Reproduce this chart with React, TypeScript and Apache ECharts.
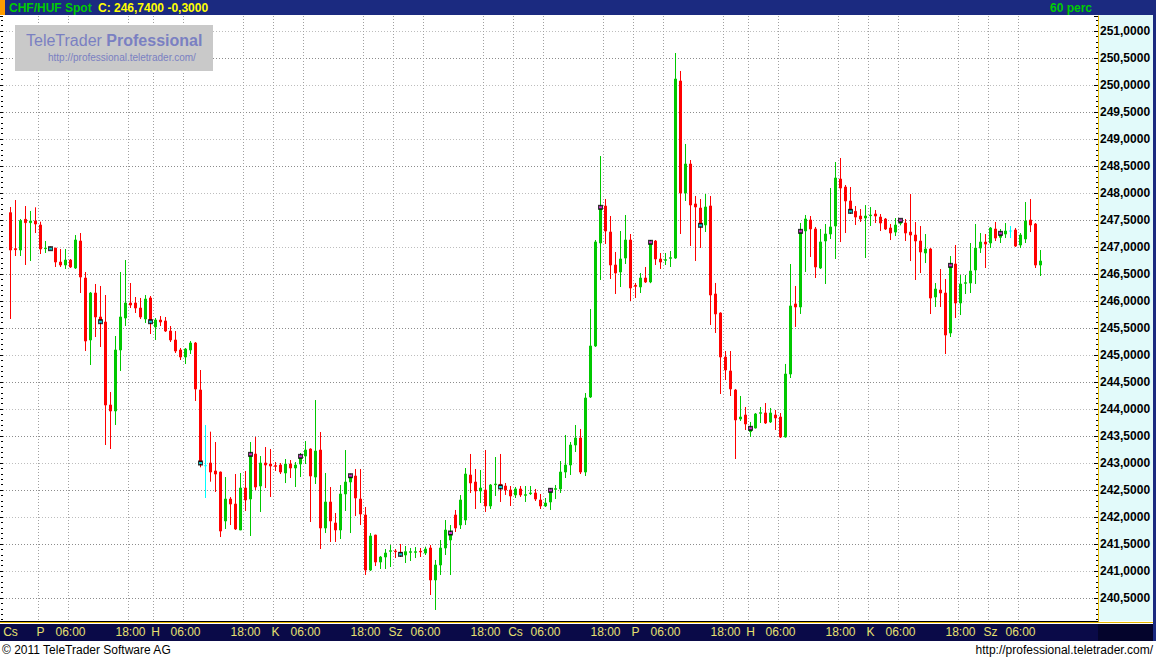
import React, { useEffect, useRef } from 'react';
import * as echarts from 'echarts';

const FONT = '"Liberation Sans", Arial, Helvetica, sans-serif';

// Trading sessions shown on the time axis (Hungarian day abbreviations)
const sessionDays = ['Cs', 'P', 'H', 'K', 'Sz', 'Cs', 'P', 'H', 'K', 'Sz'];
const sessionFirstHour = [17, 0, 0, 0, 0, 0, 0, 0, 0, 0];
const sessionLastHour = [23, 22, 23, 23, 23, 23, 22, 23, 23, 21];
const labelHours = [6, 18];

// first candle is Thursday 18:00 (slot 1 of the axis)
const firstCandleSlot = 1;

const openP = [
  247.636, 246.969, 246.944, 247.512, 247.451, 247.482, 247.407, 246.969, 246.994, 246.981,
  246.722, 246.667, 246.759, 246.611, 247.111, 246.426, 245.278, 246.148, 245.704, 245.611,
  244.074, 243.963, 245.093, 245.685, 245.963, 245.963, 245.870, 245.667, 246.056, 245.519,
  245.648, 245.630, 245.444, 245.278, 245.093, 244.963, 245.093, 245.222, 244.352, 242.950,
  243.000, 242.852, 242.833, 241.926, 242.333, 242.240, 241.759, 242.537, 242.333, 243.166,
  242.574, 243.000, 242.981, 242.950, 242.963, 242.815, 242.981, 242.907, 242.981, 243.129,
  243.259, 242.740, 243.240, 241.796, 242.278, 241.889, 241.759, 242.426, 242.648, 242.759,
  242.333, 242.037, 241.018, 241.666, 241.166, 241.259, 241.364, 241.370, 241.345, 241.296,
  241.345, 241.345, 241.364, 241.333, 241.426, 240.833, 241.111, 241.426, 241.574, 242.037,
  241.852, 241.944, 242.778, 242.648, 242.482, 242.500, 242.204, 242.599, 242.605, 242.574,
  242.500, 242.408, 242.519, 242.401, 242.432, 242.445, 242.315, 242.204, 242.278, 242.512,
  242.519, 242.833, 242.963, 243.333, 243.463, 242.833, 244.222, 245.167, 247.074, 247.759,
  247.278, 246.667, 246.537, 246.796, 247.130, 246.290, 246.260, 246.426, 246.352, 247.111,
  246.778, 246.753, 246.790, 246.796, 250.074, 248.000, 248.537, 247.797, 247.722, 247.408,
  247.760, 246.130, 245.778, 244.963, 244.704, 244.352, 243.815, 243.889, 243.581, 243.648,
  243.920, 243.926, 243.760, 243.889, 243.852, 243.482, 244.648, 245.945, 245.889, 247.297,
  247.500, 247.334, 246.611, 247.111, 247.241, 247.389, 248.259, 248.111, 247.852, 247.660,
  247.574, 247.537, 247.580, 247.611, 247.555, 247.518, 247.352, 247.277, 247.438, 247.444,
  247.277, 247.222, 247.111, 246.889, 246.963, 246.074, 246.203, 246.148, 245.407, 246.685,
  245.963, 246.327, 246.333, 246.574, 246.981, 247.092, 247.074, 247.333, 247.179, 247.240,
  247.296, 247.315, 247.037, 247.148, 247.500, 247.426, 246.666,
];

const closeP = [
  246.944, 246.951, 247.488, 247.451, 247.482, 247.426, 246.963, 246.982, 246.969, 246.722,
  246.667, 246.759, 246.630, 247.130, 246.444, 245.259, 246.148, 245.704, 245.617, 244.074,
  243.963, 245.093, 245.704, 245.963, 245.926, 245.870, 245.704, 246.037, 245.617, 245.648,
  245.611, 245.444, 245.278, 245.074, 244.963, 245.111, 245.222, 244.370, 243.000, 242.950,
  242.833, 242.796, 241.740, 242.333, 242.240, 241.778, 242.537, 242.315, 243.160, 242.555,
  243.000, 242.963, 242.944, 242.938, 242.833, 242.981, 242.907, 242.963, 243.123, 243.240,
  242.759, 243.222, 241.796, 242.278, 241.926, 241.759, 242.426, 242.648, 242.765, 242.352,
  242.055, 241.018, 241.648, 241.166, 241.259, 241.333, 241.376, 241.358, 241.308, 241.358,
  241.358, 241.358, 241.352, 241.407, 240.833, 241.111, 241.426, 241.759, 241.704, 241.796,
  242.315, 242.796, 242.630, 242.482, 242.537, 242.204, 242.593, 242.611, 242.556, 242.500,
  242.389, 242.519, 242.408, 242.414, 242.445, 242.333, 242.204, 242.259, 242.494, 242.525,
  242.833, 242.963, 243.333, 243.463, 242.833, 244.204, 245.167, 247.093, 247.735, 247.296,
  246.667, 246.519, 246.778, 247.130, 246.241, 246.272, 246.426, 246.352, 247.087, 246.778,
  246.722, 246.766, 246.803, 250.111, 248.000, 248.537, 247.778, 247.741, 247.401, 247.741,
  246.111, 245.760, 244.963, 244.722, 244.371, 243.797, 243.852, 243.722, 243.642, 243.908,
  243.932, 243.741, 243.926, 243.834, 243.482, 244.648, 245.908, 245.889, 247.290, 247.519,
  247.334, 246.630, 247.093, 247.241, 247.371, 248.278, 248.092, 247.852, 247.660, 247.555,
  247.518, 247.574, 247.592, 247.574, 247.444, 247.333, 247.259, 247.407, 247.494, 247.259,
  247.222, 247.111, 246.907, 246.963, 246.055, 246.222, 246.148, 245.370, 246.660, 245.963,
  246.315, 246.339, 246.555, 246.981, 247.092, 247.055, 247.352, 247.166, 247.253, 247.296,
  247.296, 247.018, 247.222, 247.481, 247.407, 246.666, 246.740,
];

const lowP = [
  245.667, 246.833, 246.833, 246.667, 246.741, 247.259, 246.870, 246.889, 246.944, 246.630,
  246.630, 246.593, 246.611, 246.593, 246.148, 245.074, 244.815, 245.333, 245.148, 243.333,
  243.259, 243.704, 244.704, 245.537, 245.870, 245.778, 245.667, 245.593, 245.389, 245.278,
  245.537, 245.426, 245.241, 245.037, 244.907, 244.833, 245.019, 244.148, 242.920, 242.352,
  242.654, 242.463, 241.629, 241.778, 241.852, 241.759, 241.759, 242.111, 241.648, 242.500,
  242.092, 242.537, 242.370, 242.852, 242.796, 242.629, 242.722, 242.555, 242.740, 242.981,
  241.907, 242.611, 241.407, 241.703, 241.537, 241.537, 241.592, 242.111, 241.703, 242.018,
  241.852, 240.926, 241.000, 241.092, 241.037, 241.037, 241.074, 241.240, 241.259, 241.148,
  241.185, 241.240, 241.259, 241.296, 240.555, 240.278, 240.926, 241.296, 240.926, 241.722,
  241.778, 241.852, 242.445, 242.148, 242.259, 242.093, 242.148, 242.389, 242.278, 242.408,
  242.204, 242.352, 242.371, 242.278, 242.408, 242.296, 242.148, 242.185, 242.130, 242.333,
  242.445, 242.722, 242.778, 243.204, 242.796, 242.759, 244.204, 245.148, 246.389, 247.056,
  246.408, 246.130, 246.259, 246.685, 246.000, 246.056, 246.148, 246.334, 246.330, 246.667,
  246.593, 246.667, 246.630, 246.780, 247.241, 247.852, 247.019, 246.741, 246.982, 247.278,
  245.556, 245.408, 244.278, 244.537, 244.241, 243.074, 243.778, 243.611, 243.482, 243.640,
  243.741, 243.723, 243.741, 243.611, 243.463, 243.470, 244.574, 245.519, 245.760, 246.537,
  246.815, 246.426, 246.593, 246.315, 247.148, 246.778, 247.092, 247.259, 247.611, 247.407,
  247.463, 246.796, 247.389, 247.444, 247.296, 247.315, 247.129, 247.203, 247.401, 247.111,
  246.740, 246.389, 246.518, 246.703, 245.759, 245.889, 245.889, 245.018, 245.333, 245.685,
  245.740, 246.129, 246.148, 246.315, 246.889, 246.611, 246.981, 247.111, 247.074, 247.166,
  247.166, 247.000, 246.981, 247.074, 247.277, 246.611, 246.463,
];

const highP = [
  247.741, 247.870, 247.519, 247.759, 247.667, 247.735, 247.469, 247.111, 247.006, 246.981,
  246.963, 246.963, 246.778, 247.222, 247.259, 246.537, 246.167, 246.315, 246.278, 246.111,
  244.315, 245.352, 246.537, 246.759, 246.333, 246.074, 246.056, 246.111, 246.093, 245.685,
  245.722, 245.704, 245.537, 245.444, 245.130, 245.130, 245.259, 245.241, 244.722, 243.704,
  243.580, 243.389, 242.840, 242.740, 242.370, 242.796, 242.815, 242.852, 243.389, 243.481,
  243.129, 243.296, 243.259, 243.018, 243.000, 243.074, 243.055, 243.018, 243.185, 243.407,
  243.270, 244.166, 243.574, 242.815, 242.555, 242.074, 242.592, 243.240, 242.802, 242.889,
  242.889, 242.185, 241.703, 241.670, 241.278, 241.407, 241.481, 241.407, 241.500, 241.463,
  241.426, 241.444, 241.426, 241.450, 241.481, 241.204, 241.574, 241.944, 241.852, 242.130,
  242.407, 242.907, 243.167, 242.889, 242.870, 243.241, 242.611, 243.111, 243.167, 242.630,
  242.574, 242.556, 242.574, 242.574, 242.574, 242.519, 242.426, 242.352, 242.537, 242.593,
  243.037, 243.519, 243.389, 243.704, 243.630, 244.296, 245.852, 247.130, 248.685, 247.889,
  247.574, 246.908, 247.296, 247.593, 247.241, 246.334, 246.519, 246.630, 247.130, 247.130,
  246.889, 246.889, 246.926, 250.593, 250.260, 248.908, 248.611, 247.945, 247.889, 247.982,
  247.945, 246.334, 245.790, 245.074, 245.074, 244.371, 244.241, 244.037, 243.760, 243.926,
  244.037, 244.111, 244.019, 243.982, 243.926, 244.834, 246.685, 246.278, 247.445, 247.593,
  247.574, 247.371, 247.334, 247.426, 248.093, 248.574, 248.648, 248.148, 248.111, 247.759,
  247.703, 247.777, 247.740, 247.685, 247.611, 247.537, 247.426, 247.537, 247.518, 247.518,
  247.981, 247.463, 247.389, 247.240, 246.981, 246.333, 246.592, 246.407, 246.833, 247.037,
  246.481, 246.481, 247.074, 247.426, 247.259, 247.240, 247.370, 247.463, 247.333, 247.444,
  247.389, 247.352, 247.259, 247.833, 247.889, 247.444, 246.944,
];

// candles carrying a signal marker (candle index)
const markerCandles = [8, 18, 28, 38, 48, 58, 68, 78, 88, 98, 108, 118, 128, 138, 148, 158, 168, 178, 188, 198];

const Y_MIN = 240.074;
const Y_MAX = 251.278;

const instrumentName = 'CHF/HUF Spot';
const lastClose = closeP[closeP.length - 1];
const change = -0.3;
const periodText = '60 perc';

const GREEN = '#00c800';
const RED = '#ff0000';
const CYAN = '#00ffff';
const MAGENTA = '#ff33ff';

const fmt4 = (v: number) => v.toFixed(4).replace('.', ',');

const categories: string[] = [];
sessionDays.forEach((d, s) => {
  for (let h = sessionFirstHour[s]; h <= sessionLastHour[s]; h++) categories.push(`${s}|${d}|${h}`);
});
const parseCat = (v: string) => {
  const p = String(v).split('|');
  return { s: Number(p[0]), d: p[1], h: Number(p[2]) };
};
const hourText = (h: number) => (h < 10 ? '0' : '') + h + ':00';
const lastCandleSlot = firstCandleSlot + closeP.length - 1;

export default function App() {
  const ref = useRef<HTMLDivElement>(null);
  useEffect(() => {
    if (!ref.current) return;
    const chart = echarts.init(ref.current, null, { renderer: 'svg' });

    const candleData = openP.map((o, k) => {
      const c = closeP[k];
      const item: any = { value: [firstCandleSlot + k, o, c, lowP[k], highP[k]] };
      if (o === c) item.itemStyle = { color: CYAN, color0: CYAN, borderColor: CYAN, borderColor0: CYAN };
      return item;
    });
    const markerOuter = markerCandles.map((k) => [firstCandleSlot + k, closeP[k]]);
    const markerInner = markerCandles.map((k) => ({
      value: [firstCandleSlot + k, closeP[k]],
      itemStyle: { color: closeP[k] >= openP[k] ? MAGENTA : CYAN },
    }));

    const isLabelSlot = (i: number, v: string) => {
      const p = parseCat(v);
      if (i > lastCandleSlot) return false;
      if (p.s === 0) return i === firstCandleSlot;
      return p.h === 0 || labelHours.includes(p.h);
    };
    const isGridSlot = (i: number, v: string) => {
      const p = parseCat(v);
      if (i > lastCandleSlot || p.s === 0) return false;
      return p.h === 0 || labelHours.includes(p.h);
    };

    const tickCommon = {
      min: Y_MIN,
      max: Y_MAX,
      splitNumber: 22,
      minInterval: 0.5,
      maxInterval: 0.5,
      scale: true,
    };

    const option: any = {
      animation: false,
      backgroundColor: '#ffffff',
      textStyle: { fontFamily: FONT },
      grid: { left: 3, top: 16, width: 1095, height: 605, containLabel: false, outerBoundsMode: 'none' },
      xAxis: {
        type: 'category',
        data: categories,
        boundaryGap: true,
        axisLine: { show: true, lineStyle: { color: '#000000', width: 1 } },
        axisTick: { show: false },
        axisLabel: {
          interval: isLabelSlot,
          hideOverlap: false,
          formatter: (v: string) => {
            const p = parseCat(v);
            return p.s === 0 || p.h === 0 ? p.d : hourText(p.h);
          },
          color: '#e8e070',
          fontSize: 12,
          fontFamily: FONT,
          margin: 5,
        },
        splitLine: {
          show: true,
          interval: isGridSlot,
          lineStyle: { color: '#a0a0a0', type: [1, 2], width: 1 },
        },
      },
      yAxis: [
        {
          type: 'value',
          position: 'right',
          ...tickCommon,
          axisLine: { show: true, lineStyle: { color: '#e8b800', width: 1 } },
          axisTick: { show: true, inside: true, length: 4, lineStyle: { color: '#000000' } },
          minorTick: { show: true, splitNumber: 5, length: 2, lineStyle: { color: '#000000' } },
          axisLabel: {
            showMinLabel: false,
            showMaxLabel: false,
            formatter: (v: number) => fmt4(v),
            color: '#000000',
            fontWeight: 'bold',
            fontSize: 12,
            fontFamily: FONT,
            margin: 2,
          },
          splitLine: {
            show: true,
            showMinLine: false,
            showMaxLine: false,
            lineStyle: { color: ['#8c8c8c', '#bdbdbd'], type: [1, 2], width: 1 },
          },
        },
        {
          type: 'value',
          position: 'left',
          ...tickCommon,
          axisLine: { show: false },
          axisTick: { show: true, inside: false, length: 3, lineStyle: { color: '#000000' } },
          minorTick: { show: true, splitNumber: 5, length: 2, lineStyle: { color: '#000000' } },
          axisLabel: { show: false },
          splitLine: { show: false },
        },
      ],
      series: [
        {
          type: 'candlestick',
          data: candleData,
          dimensions: ['slot', 'open', 'close', 'lowest', 'highest'],
          encode: { x: 'slot', y: ['open', 'close', 'lowest', 'highest'] },
          barWidth: 2,
          itemStyle: { color: GREEN, color0: RED, borderColor: GREEN, borderColor0: RED, borderWidth: 1 },
          z: 2,
          markLine: {
            silent: true,
            symbol: ['none', 'none'],
            lineStyle: { opacity: 0 },
            data: [{ yAxis: lastClose }],
            label: {
              show: true,
              position: 'end',
              distance: 0,
              formatter: () => fmt4(lastClose),
              backgroundColor: '#ffff00',
              color: '#000000',
              fontWeight: 'bold',
              fontSize: 12,
              fontFamily: FONT,
              padding: [1, 3, 0, 2],
            },
          },
        },
        {
          type: 'scatter',
          data: markerOuter,
          symbol: 'rect',
          symbolSize: 5,
          itemStyle: { color: '#000000' },
          z: 3,
          silent: true,
        },
        {
          type: 'scatter',
          data: markerInner,
          symbol: 'rect',
          symbolSize: [3, 2],
          z: 4,
          silent: true,
        },
      ],
      graphic: [
        // top bar
        { type: 'rect', z: 5, shape: { x: 0, y: 0, width: 1156, height: 15 }, style: { fill: '#1b2a80' } },
        { type: 'rect', z: 6, shape: { x: 0, y: 0, width: 5, height: 15 }, style: { fill: '#ff9c00' } },
        {
          type: 'text', z: 7, x: 9, y: 8,
          style: { text: instrumentName, fill: '#00cc00', font: `bold 12px ${FONT}`, verticalAlign: 'middle' },
        },
        {
          type: 'text', z: 7, x: 98, y: 8,
          style: {
            text: `C: ${fmt4(lastClose)} ${fmt4(change)}`,
            fill: '#ffff00', font: `bold 12px ${FONT}`, verticalAlign: 'middle',
          },
        },
        {
          type: 'text', z: 7, x: 1092, y: 8,
          style: { text: periodText, fill: '#00cc00', font: `bold 12px ${FONT}`, verticalAlign: 'middle', align: 'right' },
        },
        // right axis panel
        { type: 'rect', z: -1, shape: { x: 1098, y: 15, width: 55, height: 606 }, style: { fill: '#e2fafa' } },
        { type: 'rect', z: 5, shape: { x: 1153, y: 0, width: 3, height: 641 }, style: { fill: '#1b2a80' } },
        // bottom strip
        { type: 'rect', z: 1, shape: { x: 0, y: 622, width: 1156, height: 1 }, style: { fill: '#e8b800' } },
        { type: 'rect', z: -1, shape: { x: 0, y: 624, width: 1156, height: 17 }, style: { fill: '#0a0a48' } },
        { type: 'rect', z: -1, shape: { x: 1098, y: 624, width: 58, height: 17 }, style: { fill: '#04042c' } },
        // logo
        { type: 'rect', z: 1, shape: { x: 15, y: 25, width: 198, height: 46 }, style: { fill: '#c9c9c9' } },
        {
          type: 'text', z: 2, x: 26, y: 40,
          style: {
            text: '{a|TeleTrader }{b|Professional}',
            verticalAlign: 'middle',
            rich: {
              a: { fill: '#7a80c2', font: `16px ${FONT}` },
              b: { fill: '#7a80c2', font: `bold 16px ${FONT}` },
            },
          },
        },
        {
          type: 'text', z: 2, x: 48, y: 57,
          style: { text: 'http://professional.teletrader.com/', fill: '#7a80c2', font: `10px ${FONT}`, verticalAlign: 'middle' },
        },
        // footer
        {
          type: 'text', z: 2, x: 2, y: 650,
          style: { text: '\u00a9 2011 TeleTrader Software AG', fill: '#000000', font: `12px ${FONT}`, verticalAlign: 'middle' },
        },
        {
          type: 'text', z: 2, x: 1153, y: 650,
          style: { text: 'http://professional.teletrader.com/', fill: '#000000', font: `12px ${FONT}`, verticalAlign: 'middle', align: 'right' },
        },
      ],
    };

    chart.setOption(option);
    return () => chart.dispose();
  }, []);

  return (
    <div
      ref={ref}
      style={{ position: 'fixed', left: 0, top: 0, width: 1156, height: 659, background: '#ffffff' }}
    />
  );
}
